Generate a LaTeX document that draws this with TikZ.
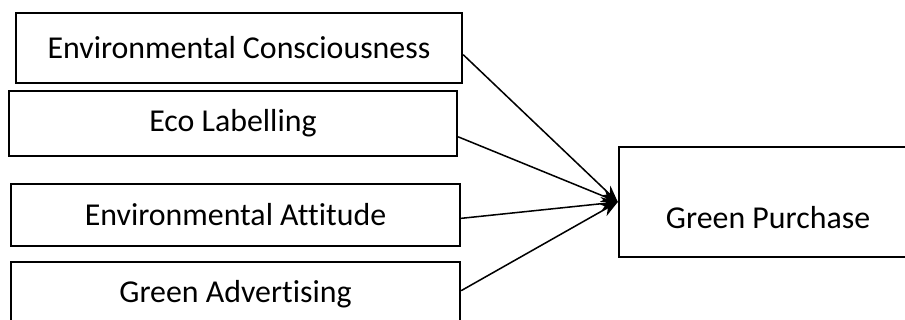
\documentclass[tikz,border=0pt]{standalone}
\usepackage{fontspec}
\setmainfont{Carlito}[Ligatures=CommonOff]
\usetikzlibrary{arrows.meta}

\begin{document}
\begin{tikzpicture}[x=0.03cm,y=-0.03cm,
    factor/.style={draw,line width=2pt,rectangle,font=\fontsize{27.2}{32}\selectfont}]
            \useasboundingbox (0,0) rectangle (905,320);
            \node[factor,minimum width=13.38cm,minimum height=2.1cm] (ec) at (239,48) {Environmental Consciousness};
            \node[factor,minimum width=13.44cm,minimum height=1.95cm] (el) at (233,123.5) {Eco Labelling};
            \node[factor,minimum width=13.47cm,minimum height=1.86cm] (ea) at (235.5,215) {Environmental Attitude};
            \node[factor,minimum width=13.47cm,minimum height=1.92cm] (ga) at (235.5,294) {Green Advertising};
            \node[factor,minimum width=8.94cm,minimum height=3.3cm,
                  text height=1.56cm,text depth=0pt] (gp) at (768,202) {Green Purchase};
          \begin{scope}[line width=1.3pt, -{Stealth[length=0.5cm,width=0.4cm]}]
            \draw ([yshift=-0.2cm]ec.east) -- (gp.west);
            \draw ([yshift=-0.4cm]el.east) -- (gp.west);
            \draw ([yshift=-0.1cm]ea.east) -- (gp.west);
            \draw ([yshift=0.1cm]ga.east) -- (gp.west);
          \end{scope}
          \end{tikzpicture}
\end{document}
